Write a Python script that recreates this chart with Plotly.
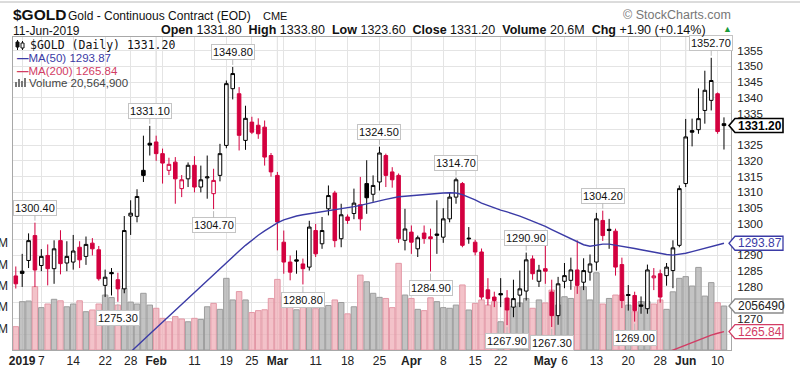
import plotly.graph_objects as go
import pandas as pd

# ---------------- data ----------------
holidays = ['2019-01-01', '2019-01-21', '2019-02-18', '2019-04-19', '2019-05-27']
dates = [d.strftime('%Y-%m-%d') for d in pd.bdate_range('2018-12-31', '2019-06-11')
         if d.strftime('%Y-%m-%d') not in holidays]

open_ = [1283.5, 1285.0, 1288.4, 1296.3, 1286.8, 1290.0, 1285.8, 1294.7, 1287.6, 1287.9,
         1292.6, 1289.7, 1293.9, 1291.8, 1280.5, 1284.6, 1282.3, 1279.4, 1302.5, 1302.4,
         1317.0, 1325.6, 1326.0, 1322.3, 1317.0, 1319.6, 1311.2, 1314.3, 1318.6, 1311.7,
         1314.6, 1309.6, 1315.4, 1324.9, 1342.9, 1341.3, 1326.5, 1332.3, 1331.3, 1330.7,
         1321.7, 1315.4, 1294.2, 1287.9, 1288.6, 1287.3, 1286.3, 1297.9, 1293.7, 1304.8,
         1309.8, 1295.3, 1302.2, 1303.3, 1306.1, 1312.8, 1309.4, 1313.3, 1321.7, 1316.5,
         1315.4, 1294.8, 1297.4, 1292.1, 1297.1, 1295.9, 1296.8, 1295.8, 1301.6, 1308.5,
         1312.8, 1295.5, 1294.2, 1291.1, 1279.1, 1276.8, 1277.9, 1276.5, 1273.6, 1277.4,
         1278.7, 1288.9, 1281.8, 1285.8, 1278.4, 1270.9, 1281.8, 1282.1, 1285.4, 1281.5,
         1284.7, 1287.9, 1301.1, 1298.3, 1297.7, 1287.1, 1277.6, 1277.3, 1274.3, 1273.1,
         1282.9, 1284.2, 1283.6, 1285.2, 1293.2, 1312.8, 1329.6, 1329.9, 1336.0, 1339.2,
         1341.3, 1331.8]
high = [1286.5, 1290.5, 1297.0, 1300.4, 1292.0, 1293.5, 1294.8, 1298.0, 1294.5, 1296.5,
        1294.5, 1296.0, 1295.5, 1293.0, 1285.5, 1286.0, 1284.5, 1302.5, 1307.5, 1311.0,
        1328.0, 1331.1, 1328.0, 1323.9, 1321.0, 1321.2, 1315.5, 1319.5, 1321.5, 1318.5,
        1321.7, 1317.5, 1325.4, 1345.5, 1349.8, 1343.4, 1337.5, 1334.0, 1333.5, 1332.8,
        1322.5, 1316.5, 1297.9, 1290.0, 1291.6, 1289.0, 1301.0, 1300.0, 1302.2, 1312.2,
        1310.5, 1306.4, 1303.0, 1311.2, 1314.9, 1320.2, 1315.4, 1324.5, 1322.3, 1318.0,
        1316.0, 1304.8, 1299.5, 1296.3, 1299.5, 1298.5, 1307.5, 1305.0, 1310.0, 1314.7,
        1313.3, 1299.0, 1295.0, 1292.2, 1282.8, 1278.5, 1282.8, 1279.0, 1282.3, 1285.2,
        1290.9, 1290.0, 1287.0, 1293.0, 1282.3, 1283.2, 1287.6, 1289.3, 1294.8, 1289.1,
        1290.3, 1303.5, 1304.2, 1301.6, 1298.5, 1289.3, 1280.6, 1278.5, 1277.0, 1287.1,
        1286.0, 1285.5, 1287.6, 1294.8, 1312.2, 1333.3, 1333.4, 1343.0, 1348.6, 1352.7,
        1341.7, 1333.8]
low = [1279.5, 1280.0, 1286.0, 1280.0, 1285.0, 1280.5, 1281.0, 1284.0, 1285.0, 1285.5,
       1286.0, 1287.0, 1290.0, 1282.0, 1276.8, 1277.3, 1275.3, 1278.0, 1296.5, 1300.5,
       1313.3, 1321.7, 1320.0, 1312.8, 1315.5, 1306.4, 1308.5, 1311.7, 1310.0, 1310.0,
       1308.0, 1304.7, 1313.5, 1324.0, 1339.5, 1323.3, 1323.5, 1328.5, 1327.0, 1318.5,
       1315.0, 1291.6, 1284.2, 1282.1, 1284.2, 1280.8, 1285.2, 1289.5, 1292.1, 1302.7,
       1292.6, 1292.6, 1300.0, 1301.5, 1297.9, 1303.2, 1307.0, 1310.6, 1311.7, 1311.5,
       1294.0, 1291.6, 1290.5, 1289.5, 1293.7, 1284.9, 1290.5, 1294.0, 1300.5, 1306.4,
       1292.6, 1293.7, 1290.0, 1276.0, 1274.2, 1273.6, 1273.6, 1267.9, 1270.4, 1273.6,
       1275.7, 1282.3, 1280.0, 1281.0, 1267.3, 1268.0, 1279.6, 1279.1, 1277.8, 1279.0,
       1282.0, 1285.2, 1294.6, 1292.1, 1283.6, 1273.3, 1272.5, 1269.0, 1271.5, 1271.5,
       1279.0, 1275.0, 1280.4, 1279.6, 1292.6, 1311.7, 1324.6, 1328.6, 1331.8, 1336.0,
       1328.6, 1323.6]
close = [1281.0, 1284.3, 1294.7, 1285.4, 1289.7, 1285.8, 1292.1, 1287.4, 1289.7, 1291.4,
         1288.6, 1293.5, 1292.1, 1282.6, 1283.1, 1284.2, 1279.4, 1297.9, 1303.4, 1308.7,
         1315.4, 1325.0, 1322.3, 1319.3, 1318.9, 1314.3, 1314.0, 1318.6, 1311.7, 1314.0,
         1314.9, 1313.8, 1322.3, 1344.5, 1347.7, 1328.1, 1333.5, 1329.1, 1328.6, 1321.2,
         1316.5, 1300.6, 1287.9, 1284.7, 1288.2, 1285.8, 1299.0, 1290.5, 1297.9, 1309.0,
         1294.7, 1302.9, 1301.1, 1306.6, 1301.6, 1308.3, 1312.2, 1322.5, 1315.4, 1314.0,
         1295.3, 1298.4, 1294.2, 1295.6, 1295.4, 1295.3, 1296.4, 1301.6, 1308.5, 1314.0,
         1293.2, 1295.3, 1291.1, 1276.8, 1276.3, 1275.7, 1277.5, 1272.7, 1276.3, 1279.4,
         1288.6, 1284.2, 1285.3, 1285.0, 1270.9, 1281.0, 1283.6, 1285.4, 1280.5, 1285.2,
         1287.3, 1301.6, 1296.3, 1297.9, 1286.3, 1275.7, 1277.3, 1272.5, 1273.9, 1285.4,
         1283.5, 1276.8, 1286.3, 1292.4, 1311.2, 1327.6, 1329.1, 1333.4, 1342.4, 1345.5,
         1329.3, 1331.2]
volume_m = [10.9, 22.6, 22.9, 29.6, 19.8, 21.5, 23.7, 23.0, 20.2, 21.5,
            23.0, 17.9, 18.7, 21.5, 25.7, 24.5, 21.0, 28.8, 22.4, 21.5,
            26.5, 21.0, 19.5, 14.8, 13.2, 15.6, 14.5, 13.2, 14.8, 14.3,
            20.2, 21.8, 19.0, 33.5, 23.4, 27.3, 23.4, 17.5, 18.4, 18.8,
            24.1, 33.0, 25.0, 21.2, 18.8, 23.0, 22.2, 19.3, 19.8, 20.8,
            23.4, 22.2, 16.9, 20.2, 35.0, 31.9, 26.5, 24.6, 24.1, 19.8,
            40.5, 25.7, 24.1, 19.0, 18.4, 24.4, 22.6, 19.8, 19.5, 21.0,
            30.4, 18.7, 21.8, 23.4, 21.0, 22.6, 13.2, 24.0, 20.5, 22.0,
            24.1, 19.5, 23.4, 22.0, 28.0, 21.0, 24.9, 24.1, 29.6, 29.6,
            23.4, 36.1, 21.5, 24.1, 25.7, 25.7, 21.0, 17.9, 22.6, 22.6,
            21.5, 23.4, 19.0, 27.2, 33.5, 34.3, 29.9, 38.6, 25.2, 31.5,
            22.1, 20.5649]
ma50 = [None] * 16 + [
    1255.5, 1257.5, 1259.4, 1261.3, 1263.2, 1265.1, 1267.0, 1268.9, 1270.8, 1272.7,
    1274.6, 1276.5, 1278.4, 1280.3, 1282.1, 1283.9, 1285.8, 1287.7, 1289.6, 1291.4,
    1293.2, 1294.9, 1296.4, 1297.8, 1299.1, 1300.3, 1301.3, 1302.0, 1302.5, 1302.9,
    1303.2, 1303.6, 1304.0, 1304.3, 1304.6, 1304.9, 1305.2, 1305.5, 1305.9, 1306.3,
    1306.8, 1307.3, 1307.8, 1308.3, 1308.6, 1308.8, 1309.0, 1309.2, 1309.4, 1309.6,
    1309.7, 1309.8, 1309.9, 1309.8, 1309.3, 1308.5, 1307.6, 1306.6, 1305.8, 1305.1,
    1304.4, 1303.8, 1303.2, 1302.5, 1301.7, 1300.9, 1300.0, 1299.2, 1298.2, 1297.2,
    1296.2, 1295.2, 1294.2, 1293.4, 1292.9, 1293.2, 1293.6, 1293.6, 1293.3, 1292.9,
    1292.5, 1292.2, 1291.8, 1291.4, 1291.0, 1290.6, 1290.3, 1290.1, 1290.3, 1290.7,
    1291.2, 1291.7, 1292.2, 1292.8, 1293.4, 1293.87]
ma200 = [None] * 100 + [1257.6, 1258.4, 1259.2, 1260.0, 1260.9, 1261.7, 1262.5, 1263.3,
                        1264.0, 1264.7, 1265.3, 1265.84]

tick_dates = ['2019-01-02', '2019-01-07', '2019-01-14', '2019-01-22', '2019-01-28',
              '2019-02-01', '2019-02-11', '2019-02-19', '2019-02-25', '2019-03-01',
              '2019-03-11', '2019-03-18', '2019-03-25', '2019-04-01', '2019-04-08',
              '2019-04-15', '2019-04-22', '2019-05-01', '2019-05-06', '2019-05-13',
              '2019-05-20', '2019-05-28', '2019-06-03', '2019-06-10']
tick_text = ['<b>2019</b>', '7', '14', '22', '28', '<b>Feb</b>', '11', '19', '25', '<b>Mar</b>',
             '11', '18', '25', '<b>Apr</b>', '8', '15', '22', '<b>May</b>', '6', '13',
             '20', '28', '<b>Jun</b>', '10']
extra_grid_dates = ['2019-02-04', '2019-03-04']
month_dates = ['2019-02-01', '2019-03-01', '2019-04-01', '2019-05-01', '2019-06-03']

high_marks = ['2019-01-04', '2019-01-31', '2019-02-20', '2019-03-25', '2019-04-10',
              '2019-04-26', '2019-05-14', '2019-06-07']
low_marks = ['2019-01-24', '2019-02-14', '2019-03-07', '2019-04-04', '2019-04-23',
             '2019-05-02', '2019-05-21']

price_ticks = list(range(1260, 1360, 5))
hidden_price_ticks = [1260, 1265, 1275, 1295, 1330]
vol_ticks = [10, 20, 30, 40, 50]

# ---------------- styling ----------------
RED = '#d3003f'
BLUE = '#3b3ba6'
MA200C = '#d23c64'
FONT = 'Liberation Sans, Arial, sans-serif'
W, H = 800, 373
ML, MR, MT, MB = 13, 69, 37, 23
PW, PH = W - ML - MR, H - MT - MB


def px(xp):
    return (xp - ML) / PW


def py(yp):
    return (H - MB - yp) / PH


n = len(dates)
idx = list(range(n))
pos = {d: i for i, d in enumerate(dates)}
prev = [open_[0]] + close[:-1]

main_i = [i for i in idx if (close[i] >= open_[i]) == (close[i] >= prev[i])]
alt_i = [i for i in idx if i not in main_i]

vol_fill = ['rgba(172,172,172,0.72)' if close[i] >= prev[i] else 'rgba(238,170,180,0.72)' for i in idx]
vol_line = ['#9c9c9c' if close[i] >= prev[i] else '#e398a6' for i in idx]

fig = go.Figure()

fig.add_trace(go.Bar(x=idx, y=volume_m, marker=dict(color=vol_fill, line=dict(color=vol_line, width=1)),
                     width=0.86, yaxis='y', hoverinfo='skip', showlegend=False))


def sub(arr, ii):
    return [arr[i] for i in ii]


fig.add_trace(go.Candlestick(
    x=main_i, open=sub(open_, main_i), high=sub(high, main_i), low=sub(low, main_i),
    close=sub(close, main_i), yaxis='y2', whiskerwidth=0,
    increasing=dict(fillcolor='white', line=dict(color='black', width=1)),
    decreasing=dict(fillcolor=RED, line=dict(color=RED, width=1)),
    hoverinfo='skip', showlegend=False))
fig.add_trace(go.Candlestick(
    x=alt_i, open=sub(open_, alt_i), high=sub(high, alt_i), low=sub(low, alt_i),
    close=sub(close, alt_i), yaxis='y2', whiskerwidth=0,
    increasing=dict(fillcolor='white', line=dict(color=RED, width=1)),
    decreasing=dict(fillcolor='black', line=dict(color='black', width=1)),
    hoverinfo='skip', showlegend=False))

fig.add_trace(go.Scatter(x=idx, y=ma50, mode='lines', line=dict(color=BLUE, width=1.4),
                         yaxis='y2', hoverinfo='skip', showlegend=False))
fig.add_trace(go.Scatter(x=idx, y=ma200, mode='lines', line=dict(color=MA200C, width=1.4),
                         yaxis='y2', hoverinfo='skip', showlegend=False))

ann = []
shapes = []

# high / low callouts
for d in high_marks:
    i = pos[d]
    ann.append(dict(x=i, y=high[i], xref='x', yref='y2', text=f'{high[i]:.2f}', showarrow=True,
                    arrowhead=0, arrowwidth=1, arrowcolor='#b8b8b8', ax=0, ay=-15, standoff=2,
                    bgcolor='white', bordercolor='#c4c4c4', borderwidth=1, borderpad=1,
                    font=dict(family=FONT, size=11, color='#111')))
for d in low_marks:
    i = pos[d]
    ann.append(dict(x=i, y=low[i], xref='x', yref='y2', text=f'{low[i]:.2f}', showarrow=True,
                    arrowhead=0, arrowwidth=1, arrowcolor='#b8b8b8', ax=0, ay=16, standoff=2,
                    bgcolor='white', bordercolor='#c4c4c4', borderwidth=1, borderpad=1,
                    font=dict(family=FONT, size=11, color='#111')))

# month grid lines (darker)
for d in month_dates:
    shapes.append(dict(type='line', xref='x', yref='paper', x0=pos[d], x1=pos[d], y0=0, y1=1,
                       line=dict(color='#cdcdcd', width=1), layer='below'))

# right-hand value tags
tags = [(close[-1], 'y2', f'<b>{close[-1]:.2f}</b>', 'black', '#000', 1.6),
        (ma50[-1], 'y2', f'{ma50[-1]:.2f}', BLUE, BLUE, 1.3),
        (volume_m[-1], 'y', f'{volume_m[-1] * 1e6:.0f}'[:7], '#222', '#8a8a8a', 1.3),
        (ma200[-1], 'y2', f'{ma200[-1]:.2f}', MA200C, MA200C, 1.3)]
for val, yr, txt, tc, bc, bw in tags:
    shapes.append(dict(type='path', xref='paper', yref=yr, xsizemode='pixel', ysizemode='pixel',
                       xanchor=1, yanchor=val,
                       path='M -2,0 L 4,-7 L 52,-7 L 52,7 L 4,7 Z',
                       fillcolor='white', line=dict(color=bc, width=bw), layer='above'))
    ann.append(dict(x=1, y=val, xref='paper', yref=yr, xanchor='left', yanchor='middle',
                    xshift=5, text=txt, showarrow=False,
                    font=dict(family=FONT, size=12, color=tc)))

# header
last = n - 1
chg = close[last] - close[last - 1]
ann += [
    dict(x=px(11), y=py(15), xref='paper', yref='paper', xanchor='left', yanchor='middle',
         text='<b>$GOLD</b>', showarrow=False, font=dict(family=FONT, size=15.5, color='#111')),
    dict(x=px(66), y=py(16), xref='paper', yref='paper', xanchor='left', yanchor='middle',
         text='Gold - Continuous Contract (EOD)', showarrow=False,
         font=dict(family=FONT, size=12, color='#111')),
    dict(x=px(261), y=py(16), xref='paper', yref='paper', xanchor='left', yanchor='middle',
         text='CME', showarrow=False, font=dict(family=FONT, size=11, color='#111')),
    dict(x=px(11), y=py(31), xref='paper', yref='paper', xanchor='left', yanchor='middle',
         text='11-Jun-2019', showarrow=False, font=dict(family=FONT, size=12, color='#111')),
    dict(x=px(159), y=py(30), xref='paper', yref='paper', xanchor='left', yanchor='middle',
         text=(f'<b>Open</b> {open_[last]:.2f}  <b>High</b> {high[last]:.2f}  <b>Low</b> {low[last]:.2f}  '
               f'<b>Close</b> {close[last]:.2f}  <b>Volume</b> {volume_m[last]:.1f}M  '
               f'<b>Chg</b> {chg:+.2f} ({chg / close[last - 1] * 100:+.2f}%)'),
         showarrow=False, font=dict(family=FONT, size=12.5, color='#111')),
    dict(x=px(721), y=py(29), xref='paper', yref='paper', xanchor='left', yanchor='middle',
         text='▲', showarrow=False, font=dict(family=FONT, size=9, color='#1a9a3a')),
    dict(x=px(733), y=py(15), xref='paper', yref='paper', xanchor='right', yanchor='middle',
         text='© StockCharts.com', showarrow=False, font=dict(family=FONT, size=12.5, color='#777')),
]

# in-chart legend
ann += [
    dict(x=px(28), y=py(45), xref='paper', yref='paper', xanchor='left', yanchor='middle',
         text=f'$GOLD (Daily) {close[last]:.2f}', showarrow=False,
         font=dict(family='DejaVu Sans Mono, monospace', size=11.5, color='#111')),
    dict(x=px(15), y=py(57.5), xref='paper', yref='paper', xanchor='left', yanchor='middle',
         text=f'<b>—</b>MA(50) {ma50[-1]:.2f}', showarrow=False,
         font=dict(family=FONT, size=11.5, color=BLUE)),
    dict(x=px(15), y=py(70.5), xref='paper', yref='paper', xanchor='left', yanchor='middle',
         text=f'<b>—</b>MA(200) {ma200[-1]:.2f}', showarrow=False,
         font=dict(family=FONT, size=11.5, color=MA200C)),
    dict(x=px(27), y=py(83), xref='paper', yref='paper', xanchor='left', yanchor='middle',
         text=f'Volume {volume_m[-1] * 1e6:,.0f}', showarrow=False,
         font=dict(family=FONT, size=11.5, color='#444')),
]

# legend icons
shapes += [
    dict(type='line', xref='paper', yref='paper', x0=px(17.5), x1=px(17.5), y0=py(40), y1=py(50),
         line=dict(color='#111', width=1)),
    dict(type='rect', xref='paper', yref='paper', x0=px(16), x1=px(19), y0=py(42), y1=py(47),
         fillcolor='#111', line=dict(color='#111', width=1)),
    dict(type='line', xref='paper', yref='paper', x0=px(22.5), x1=px(22.5), y0=py(41), y1=py(50),
         line=dict(color='#111', width=1)),
    dict(type='rect', xref='paper', yref='paper', x0=px(21), x1=px(24), y0=py(43), y1=py(48),
         fillcolor='white', line=dict(color='#111', width=1)),
]
for x0, top in [(15, 82), (18, 79), (21, 81), (24, 78)]:
    shapes.append(dict(type='rect', xref='paper', yref='paper', x0=px(x0), x1=px(x0 + 2),
                       y0=py(87), y1=py(top), fillcolor='#777', line=dict(width=0)))

# top rule
shapes.append(dict(type='line', xref='paper', yref='paper', x0=px(0), x1=px(W), y0=py(2), y1=py(2),
                   line=dict(color='#b8b8b8', width=1)))

fig.update_layout(
    width=W, height=H, margin=dict(l=ML, r=MR, t=MT, b=MB, autoexpand=False),
    paper_bgcolor='white', plot_bgcolor='white', showlegend=False, boxgap=0.2,
    xaxis=dict(range=[-0.44, 112.1], tickmode='array', tickvals=[pos[d] for d in tick_dates],
               ticktext=tick_text, showgrid=True, gridcolor='#e4e4e4', gridwidth=1,
               showline=True, linecolor='#a8a8a8', mirror=True, ticks='', ticklen=0, zeroline=False,
               automargin=False, rangeslider=dict(visible=False),
               minor=dict(tickmode='array', tickvals=[pos[d] for d in extra_grid_dates],
                          showgrid=True, gridcolor='#e4e4e4', ticks='', ticklen=0),
               tickfont=dict(family=FONT, size=12, color='#222')),
    yaxis=dict(range=[0, 146.3], side='left', tickmode='array', tickvals=vol_ticks,
               ticktext=[f'{v}M' for v in vol_ticks], showgrid=False, zeroline=False,
               ticks='', ticklen=0, showline=False, automargin=False, ticklabelstandoff=4,
               tickfont=dict(family=FONT, size=12, color='#222')),
    yaxis2=dict(range=[1260.0, 1359.3], side='right', overlaying='y', tickmode='array',
                tickvals=price_ticks,
                ticktext=['' if t in hidden_price_ticks else str(t) for t in price_ticks],
                showgrid=True, gridcolor='#e4e4e4', zeroline=False, ticks='', ticklen=0,
                automargin=False, showline=True, linecolor='#a8a8a8', mirror=True,
                ticklabelstandoff=3, tickfont=dict(family=FONT, size=11.5, color='#222')),
    annotations=ann, shapes=shapes,
)

fig.write_html('out.html', config={'displayModeBar': False, 'staticPlot': True},
               post_script="document.body.style.margin='0px';")
